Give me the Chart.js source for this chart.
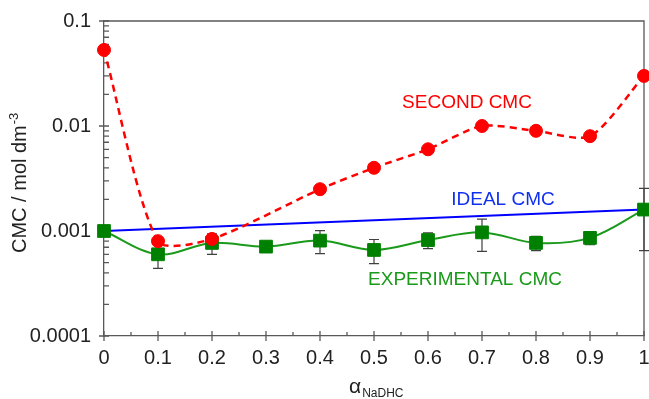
<!DOCTYPE html>
<html lang="en">
<head>
<meta charset="utf-8">
<title>CMC vs alpha NaDHC</title>
<script src="https://cdn.jsdelivr.net/npm/chart.js@4.4.0/dist/chart.umd.min.js"></script>
<style>
  html, body { margin: 0; padding: 0; background: #fff; }
  canvas { display: block; }
</style>
</head>
<body>
<canvas id="cmcChart" width="649" height="399"></canvas>
<script>
  // mole fraction of NaDHC
  const alphaAll = [0, 0.1, 0.2, 0.3, 0.4, 0.5, 0.6, 0.7, 0.8, 0.9, 1];
  // second CMC (no point measured at 0.3)
  const secondAlpha = [0, 0.1, 0.2, 0.4, 0.5, 0.6, 0.7, 0.8, 0.9, 1];
  const secondCmc = [0.053, 0.0008, 0.00084, 0.0025, 0.004, 0.006, 0.01, 0.009, 0.008, 0.03];
  // ideal mixing line
  const idealAlpha = [0, 1];
  const idealCmc = [0.001, 0.0016];
  // measured CMC and +/- error
  const expCmc = [0.001, 0.0006, 0.00077, 0.00071, 0.00081, 0.00066, 0.00082, 0.00097, 0.00077, 0.00086, 0.0016];
  const expErr = [0.00005, 0.00016, 0.00017, 0.00008, 0.0002, 0.00017, 0.00014, 0.00033, 0.00012, 0.00012, 0.00095];
  // axis ticks
  const xTicks = [0, 0.1, 0.2, 0.3, 0.4, 0.5, 0.6, 0.7, 0.8, 0.9, 1];
  const yTicks = [0.0001, 0.001, 0.01, 0.1];

  const FONT = "'Liberation Sans', Arial, sans-serif";
  const axisColor = '#595959';

  // series labels written inside the plot (data coords, left edge / baseline)
  const seriesNotes = [
    { text: 'SECOND CMC', x: 0.552, y: 0.0149, color: '#ff0000' },
    { text: 'IDEAL CMC', x: 0.643, y: 0.00177, color: '#1030f0' },
    { text: 'EXPERIMENTAL CMC', x: 0.489, y: 0.000306, color: '#1a9a1a' }
  ];

  function pairs(xs, ys) {
    return xs.map((a, i) => ({ x: a, y: ys[i] }));
  }

  function noPad(s) {
    s.paddingLeft = 0;
    s.paddingRight = 0;
    s.paddingTop = 0;
    s.paddingBottom = 0;
  }

  const extras = {
    id: 'extras',
    beforeDatasetsDraw(chart) {
      const ctx = chart.ctx;
      const xs = chart.scales.x, ys = chart.scales.y;
      const area = chart.chartArea;
      ctx.save();
      ctx.strokeStyle = axisColor;
      ctx.lineWidth = 1.3;
      // top and right frame
      ctx.beginPath();
      ctx.moveTo(area.left, area.top);
      ctx.lineTo(area.right, area.top);
      ctx.lineTo(area.right, area.bottom);
      ctx.stroke();

      // y ticks: major crossing the axis, minor inside
      ctx.beginPath();
      yTicks.forEach((v, k) => {
        const py = ys.getPixelForValue(v);
        ctx.moveTo(area.left - 5, py);
        ctx.lineTo(area.left + 5, py);
        if (k < yTicks.length - 1) {
          for (let m = 2; m <= 9; m++) {
            const my = ys.getPixelForValue(v * m);
            ctx.moveTo(area.left, my);
            ctx.lineTo(area.left + 5, my);
          }
        }
      });
      // x ticks: major crossing, minor above the axis
      xTicks.forEach((v, k) => {
        const px = xs.getPixelForValue(v);
        ctx.moveTo(px, area.bottom - 5);
        ctx.lineTo(px, area.bottom + 5);
        if (k < xTicks.length - 1) {
          const mx = xs.getPixelForValue(v + 0.05);
          ctx.moveTo(mx, area.bottom - 4);
          ctx.lineTo(mx, area.bottom);
        }
      });
      ctx.stroke();

      // error bars on the experimental CMC
      ctx.strokeStyle = '#404040';
      ctx.lineWidth = 1.2;
      ctx.beginPath();
      alphaAll.forEach((a, i) => {
        const px = xs.getPixelForValue(a);
        const top = ys.getPixelForValue(expCmc[i] + expErr[i]);
        const bot = ys.getPixelForValue(expCmc[i] - expErr[i]);
        ctx.moveTo(px, top);
        ctx.lineTo(px, bot);
        ctx.moveTo(px - 5, top);
        ctx.lineTo(px + 5, top);
        ctx.moveTo(px - 5, bot);
        ctx.lineTo(px + 5, bot);
      });
      ctx.stroke();
      ctx.restore();
    },
    afterDraw(chart) {
      const ctx = chart.ctx;
      const xs = chart.scales.x, ys = chart.scales.y;
      ctx.save();
      ctx.textAlign = 'left';
      ctx.textBaseline = 'alphabetic';
      ctx.font = '19px ' + FONT;
      seriesNotes.forEach(n => {
        ctx.fillStyle = n.color;
        ctx.fillText(n.text, xs.getPixelForValue(n.x), ys.getPixelForValue(n.y));
      });

      // x title: alpha with subscript
      ctx.fillStyle = '#222';
      ctx.font = '21px ' + FONT;
      ctx.fillText('\u03b1', 349, 393);
      const aw = ctx.measureText('\u03b1').width;
      ctx.font = '12px ' + FONT;
      ctx.fillText('NaDHC', 349 + aw + 1, 397);

      // y title, rotated, with superscript
      ctx.translate(26, 253);
      ctx.rotate(-Math.PI / 2);
      ctx.font = '20px ' + FONT;
      ctx.fillText('CMC / mol dm', 0, 0);
      const tw = ctx.measureText('CMC / mol dm').width;
      ctx.font = '13px ' + FONT;
      ctx.fillText('-3', tw + 1, -8);
      ctx.restore();
    }
  };

  const ctx = document.getElementById('cmcChart');
  new Chart(ctx, {
    type: 'line',
    data: {
      datasets: [
        {
          label: 'SECOND CMC',
          data: pairs(secondAlpha, secondCmc),
          borderColor: '#ff0000',
          backgroundColor: '#ff0000',
          borderDash: [7, 5],
          borderWidth: 2.5,
          pointStyle: 'circle',
          pointRadius: 6.5,
          pointBorderWidth: 1,
          pointBorderColor: '#ff0000',
          tension: 0.25,
          clip: false
        },
        {
          label: 'EXPERIMENTAL CMC',
          data: pairs(alphaAll, expCmc),
          borderColor: '#1a9a1a',
          backgroundColor: '#008000',
          borderWidth: 2,
          pointStyle: 'rect',
          pointRadius: 9,
          pointBorderWidth: 1,
          pointBorderColor: '#008000',
          tension: 0.35,
          clip: false
        },
        {
          label: 'IDEAL CMC',
          data: pairs(idealAlpha, idealCmc),
          borderColor: '#0000ff',
          borderWidth: 2,
          pointRadius: 0,
          tension: 0,
          clip: false
        }
      ]
    },
    options: {
      responsive: false,
      animation: false,
      layout: { autoPadding: false, padding: { top: 21, right: 5, left: 0, bottom: 0 } },
      plugins: { legend: { display: false }, tooltip: { enabled: false } },
      scales: {
        x: {
          type: 'linear',
          min: 0,
          max: 1,
          afterBuildTicks: s => { s.ticks = xTicks.map(v => ({ value: v })); },
          afterFit: s => { s.height = 63; noPad(s); },
          grid: { display: true, drawOnChartArea: false, drawTicks: false },
          border: { color: axisColor, width: 1.3 },
          ticks: {
            font: { family: FONT, size: 20 },
            color: '#222',
            padding: 10,
            maxRotation: 0,
            autoSkip: false,
            callback: v => String(+Number(v).toFixed(1))
          }
        },
        y: {
          type: 'logarithmic',
          min: 0.0001,
          max: 0.1,
          afterBuildTicks: s => { s.ticks = yTicks.map(v => ({ value: v })); },
          afterFit: s => { s.width = 104; noPad(s); },
          grid: { display: true, drawOnChartArea: false, drawTicks: false },
          border: { color: axisColor, width: 1.3 },
          ticks: {
            font: { family: FONT, size: 20 },
            color: '#222',
            padding: 13,
            autoSkip: false,
            callback: v => String(v)
          }
        }
      }
    },
    plugins: [extras]
  });
</script>
</body>
</html>
